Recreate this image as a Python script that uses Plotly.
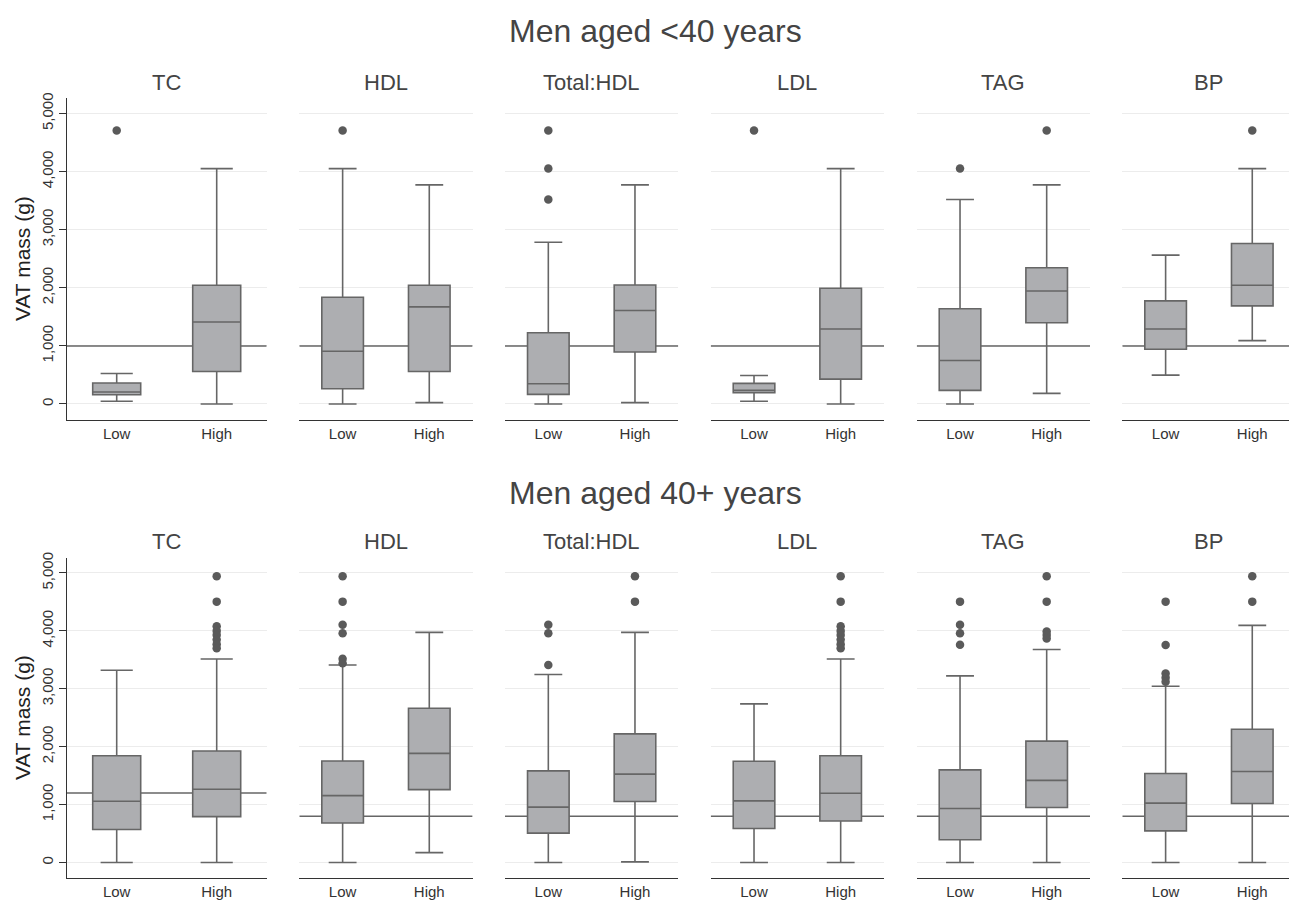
import plotly.graph_objects as go

# ---------------- data ----------------
panels = ["TC", "HDL", "Total:HDL", "LDL", "TAG", "BP"]
groups = ["Low", "High"]
row_titles = ["Men aged <40 years", "Men aged 40+ years"]
y_title = "VAT mass (g)"
y_ticks = [0, 1000, 2000, 3000, 4000, 5000]

# Men aged <40 years
young_low_lower = [46, 0, 0, 46, 0, 497]
young_low_q1 = [160, 263, 166, 194, 234, 942]
young_low_med = [205, 907, 348, 234, 748, 1290]
young_low_q3 = [360, 1838, 1227, 354, 1638, 1775]
young_low_upper = [525, 4052, 2785, 491, 3521, 2562]
young_low_out = [[4708], [4708], [4708, 4052, 3521], [4708], [4052], []]

young_high_lower = [0, 23, 23, 0, 183, 1090]
young_high_q1 = [559, 559, 896, 428, 1398, 1689]
young_high_med = [1410, 1672, 1609, 1290, 1946, 2043]
young_high_q3 = [2043, 2043, 2049, 1992, 2346, 2762]
young_high_upper = [4052, 3772, 3772, 4052, 3772, 4052]
young_high_out = [[], [], [], [], [4708], [4708]]

young_ref = [1000, 1000, 1000, 1000, 1000, 1000]

# Men aged 40+ years
old_low_lower = [0, 0, 0, 0, 0, 0]
old_low_q1 = [570, 683, 507, 587, 393, 547]
old_low_med = [1059, 1156, 957, 1065, 934, 1025]
old_low_q3 = [1845, 1754, 1583, 1748, 1600, 1538]
old_low_upper = [3320, 3411, 3246, 2739, 3223, 3045]
old_low_out = [[], [4943, 4505, 4105, 3958, 3520, 3440],
               [4105, 3958, 3411], [], [4505, 4105, 3958, 3759],
               [4505, 3758, 3262, 3190, 3121]]

old_high_lower = [0, 171, 11, 0, 0, 0]
old_high_q1 = [792, 1259, 1054, 718, 951, 1019]
old_high_med = [1264, 1885, 1526, 1196, 1418, 1572]
old_high_q3 = [1925, 2665, 2221, 1845, 2096, 2301]
old_high_upper = [3514, 3975, 3975, 3514, 3679, 4095]
old_high_out = [[4943, 4505, 4080, 4000, 3930, 3850, 3770, 3700], [],
                [4943, 4505],
                [4943, 4505, 4080, 4000, 3930, 3850, 3770, 3700],
                [4943, 4505, 3990, 3930, 3870], [4943, 4505]]

old_ref = [1200, 800, 800, 800, 800, 800]

rows = [
    dict(lower=(young_low_lower, young_high_lower), q1=(young_low_q1, young_high_q1),
         med=(young_low_med, young_high_med), q3=(young_low_q3, young_high_q3),
         upper=(young_low_upper, young_high_upper), out=(young_low_out, young_high_out),
         ref=young_ref),
    dict(lower=(old_low_lower, old_high_lower), q1=(old_low_q1, old_high_q1),
         med=(old_low_med, old_high_med), q3=(old_low_q3, old_high_q3),
         upper=(old_low_upper, old_high_upper), out=(old_low_out, old_high_out),
         ref=old_ref),
]

# ---------------- layout geometry (page pixels) ----------------
OFF = 8                      # default page body margin
W, H = 1297 - OFF, 900 - OFF
x_starts = [66.7, 299.3, 505.0, 710.7, 916.7, 1122.3]
x_widths = [200.0, 173.3, 173.3, 173.3, 173.3, 173.3]
row_y = [(92.7, 416.7), (555.3, 878.3)]  # top, bottom in px from top
title_y = [25, 490]
sub_y = [77, 539]


def px(p):
    return min(1.0, max(0.0, (p - OFF) / W))


def py(p):
    return min(1.0, max(0.0, 1 - (p - OFF) / H))


FONT = "Liberation Sans, Arial, Helvetica, sans-serif"
TXT = "#444444"
BOXFILL = "#adaeb1"
BOXLINE = "#666666"
DOT = "#5a5a5a"
GRID = "#ececec"
AXIS = "#333333"

fig = go.Figure()
layout = dict(
    width=W, height=H, autosize=False,
    margin=dict(l=0, r=0, t=0, b=0),
    paper_bgcolor="white", plot_bgcolor="white",
    showlegend=False,
    font=dict(family=FONT, color=TXT),
)
annotations = []
shapes = []

for r, row in enumerate(rows):
    top_px, bot_px = row_y[r]
    for c, name in enumerate(panels):
        idx = r * 6 + c + 1
        sfx = "" if idx == 1 else str(idx)
        xa, ya = "x" + sfx, "y" + sfx
        # reference line (between grid and boxes)
        shapes.append(dict(
            type="line", xref=xa, yref=ya, x0=-0.5, x1=1.5,
            y0=row["ref"][c], y1=row["ref"][c], layer="between",
            line=dict(color=BOXLINE, width=1.5)))
        fig.add_trace(go.Box(
            x=[0, 1],
            lowerfence=[row["lower"][0][c], row["lower"][1][c]],
            q1=[row["q1"][0][c], row["q1"][1][c]],
            median=[row["med"][0][c], row["med"][1][c]],
            q3=[row["q3"][0][c], row["q3"][1][c]],
            upperfence=[row["upper"][0][c], row["upper"][1][c]],
            width=0.48, whiskerwidth=0.67,
            fillcolor=BOXFILL, line=dict(color=BOXLINE, width=1.6),
            boxpoints=False, xaxis=xa, yaxis=ya))
        ox, oy = [], []
        for g in range(2):
            for v in row["out"][g][c]:
                ox.append(g)
                oy.append(v)
        if ox:
            fig.add_trace(go.Scatter(
                x=ox, y=oy, mode="markers",
                marker=dict(color=DOT, size=8.5, line=dict(width=0)),
                xaxis=xa, yaxis=ya))
        first = (c == 0)
        layout["xaxis" + sfx] = dict(
            domain=[px(x_starts[c]), px(x_starts[c] + x_widths[c])],
            anchor=ya, range=[-0.5, 1.5],
            tickvals=[0, 1], ticktext=groups, showgrid=False, zeroline=False,
            showline=True, linecolor=AXIS, linewidth=1, ticks="",
            tickfont=dict(size=15, color="#333333", family=FONT),
            fixedrange=True)
        layout["yaxis" + sfx] = dict(
            domain=[py(bot_px), py(top_px)], anchor=xa,
            range=[-275, 5265], tickvals=y_ticks, tickformat=",d",
            showgrid=True, gridcolor=GRID, gridwidth=1, zeroline=False,
            showline=first, linecolor=AXIS, linewidth=1,
            ticks="outside" if first else "", ticklen=7, tickcolor=AXIS,
            showticklabels=first, tickangle=-90,
            tickfont=dict(size=15, color="#333333", family=FONT),
            fixedrange=True)
        annotations.append(dict(
            text=name, xref="paper", yref="paper",
            x=px(x_starts[c] + x_widths[c] / 2), y=py(sub_y[r]),
            xanchor="center", yanchor="middle", showarrow=False,
            font=dict(size=22, color=TXT, family=FONT)))
    annotations.append(dict(
        text=row_titles[r], xref="paper", yref="paper",
        x=px(655), y=py(title_y[r]), xanchor="center", yanchor="middle",
        showarrow=False, font=dict(size=32, color=TXT, family=FONT)))
    annotations.append(dict(
        text=y_title, xref="paper", yref="paper", textangle=-90,
        x=px(22), y=py((top_px + bot_px) / 2), xanchor="center",
        yanchor="middle", showarrow=False,
        font=dict(size=21, color="#222222", family=FONT)))

layout["annotations"] = annotations
layout["shapes"] = shapes
fig.update_layout(**layout)
fig.write_html("out.html")
